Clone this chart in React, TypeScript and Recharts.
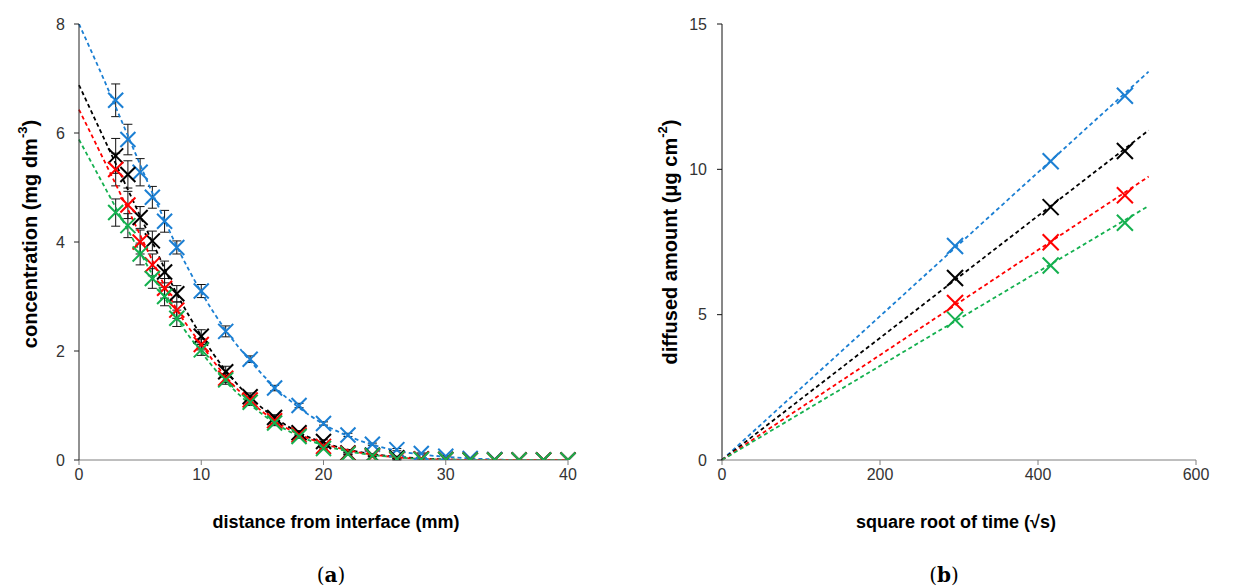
import { ComposedChart, ErrorBar, Line, Scatter, XAxis, YAxis } from "recharts";

// panel (a): concentration profiles
const distances = [3, 4, 5, 6, 7, 8, 10, 12, 14, 16, 18, 20, 22, 24, 26, 28, 30, 32, 34, 36, 38, 40];
const blueConc = [6.6, 5.88, 5.28, 4.82, 4.38, 3.9, 3.1, 2.36, 1.85, 1.32, 1.0, 0.67, 0.46, 0.29, 0.19, 0.12, 0.07, 0.03, 0.01, 0, 0, 0];
const blueErr = [0.3, 0.28, 0.25, 0.2, 0.2, 0.12, 0.12, 0.1, 0.06, 0.05, 0.04, 0.03, 0.03, 0.02, 0.02, 0.01, 0.01, 0, 0, 0, 0, 0];
const blackConc = [5.58, 5.24, 4.45, 4.02, 3.45, 3.05, 2.27, 1.62, 1.16, 0.78, 0.5, 0.34, 0.13, 0.09, 0.04, 0.02, 0.01, 0, 0, 0, 0, 0];
const blackErr = [0.32, 0.25, 0.2, 0.18, 0.2, 0.15, 0.12, 0.1, 0.07, 0.05, 0.04, 0.03, 0.02, 0.02, 0.01, 0.01, 0, 0, 0, 0, 0, 0];
const redConc = [5.33, 4.68, 4.0, 3.58, 3.15, 2.75, 2.12, 1.5, 1.1, 0.72, 0.46, 0.25, 0.12, 0.07, 0.01, 0.02, 0.01, 0, 0, 0, 0, 0];
const redErr = [0.3, 0.25, 0.22, 0.2, 0.18, 0.15, 0.1, 0.08, 0.06, 0.05, 0.04, 0.03, 0.02, 0.01, 0.01, 0, 0, 0, 0, 0, 0, 0];
const greenConc = [4.54, 4.3, 3.78, 3.33, 3.0, 2.6, 2.02, 1.47, 1.06, 0.68, 0.43, 0.21, 0.11, 0.08, 0.02, 0.01, 0.01, 0, 0, 0, 0, 0];
const greenErr = [0.25, 0.22, 0.2, 0.18, 0.17, 0.15, 0.1, 0.08, 0.06, 0.05, 0.03, 0.02, 0.02, 0.01, 0.01, 0, 0, 0, 0, 0, 0, 0];

const fitDistances = [0, 2, 4, 6, 8, 10, 12, 14, 16, 18, 20, 22, 24, 26, 28, 30, 32, 34, 36, 38, 40];
const blueFit = [8.0, 7.0, 5.95, 4.9, 3.92, 3.08, 2.38, 1.82, 1.34, 0.96, 0.66, 0.44, 0.28, 0.17, 0.1, 0.06, 0.03, 0.01, 0, 0, 0];
const blackFit = [6.88, 5.92, 4.96, 4.0, 3.05, 2.28, 1.64, 1.15, 0.78, 0.5, 0.32, 0.19, 0.11, 0.06, 0.03, 0.01, 0, 0, 0, 0, 0];
const redFit = [6.43, 5.52, 4.6, 3.66, 2.76, 2.12, 1.53, 1.08, 0.72, 0.47, 0.3, 0.18, 0.1, 0.05, 0.02, 0.01, 0, 0, 0, 0, 0];
const greenFit = [5.88, 5.05, 4.22, 3.4, 2.6, 1.98, 1.44, 1.02, 0.68, 0.44, 0.27, 0.16, 0.09, 0.05, 0.02, 0.01, 0, 0, 0, 0, 0];

// panel (b): diffused amount vs sqrt(t)
const rootTime = [295, 416, 510];
const blueAmount = [7.36, 10.28, 12.53];
const blackAmount = [6.26, 8.7, 10.63];
const redAmount = [5.4, 7.49, 9.11];
const greenAmount = [4.83, 6.69, 8.16];
const fitRootTime = [0, 540];
const blueAmountFit = [0, 13.36];
const blackAmountFit = [0, 11.34];
const redAmountFit = [0, 9.75];
const greenAmountFit = [0, 8.74];

const distTicks = [0, 10, 20, 30, 40];
const concTicks = [0, 2, 4, 6, 8];
const timeTicks = [0, 200, 400, 600];
const amountTicks = [0, 5, 10, 15];

const BLUE = "#1b7fd3";
const BLACK = "#000000";
const RED = "#ff0000";
const GREEN = "#14b04f";

const pts = (xs: number[], ys: number[], errs?: number[]) =>
  xs.map((x, i) => ({ x, y: ys[i], err: errs ? errs[i] : 0 }));

const makeCross = (color: string, r: number) => (p: any) => {
  const { cx, cy } = p;
  if (cx == null || cy == null) return <g />;
  return (
    <g>
      <line x1={cx - r} y1={cy - r} x2={cx + r} y2={cy + r} stroke={color} strokeWidth={2} />
      <line x1={cx - r} y1={cy + r} x2={cx + r} y2={cy - r} stroke={color} strokeWidth={2} />
    </g>
  );
};

const tickStyle = { fill: "#333", fontSize: 16 };
const dash = "4 3";

const leftSeries = [
  { color: BLUE, marks: pts(distances, blueConc, blueErr), fit: pts(fitDistances, blueFit) },
  { color: BLACK, marks: pts(distances, blackConc, blackErr), fit: pts(fitDistances, blackFit) },
  { color: RED, marks: pts(distances, redConc, redErr), fit: pts(fitDistances, redFit) },
  { color: GREEN, marks: pts(distances, greenConc, greenErr), fit: pts(fitDistances, greenFit) },
];

const rightSeries = [
  { color: BLUE, marks: pts(rootTime, blueAmount), fit: pts(fitRootTime, blueAmountFit) },
  { color: BLACK, marks: pts(rootTime, blackAmount), fit: pts(fitRootTime, blackAmountFit) },
  { color: RED, marks: pts(rootTime, redAmount), fit: pts(fitRootTime, redAmountFit) },
  { color: GREEN, marks: pts(rootTime, greenAmount), fit: pts(fitRootTime, greenAmountFit) },
];

function ConcentrationChart() {
  return (
    <ComposedChart width={625} height={587} margin={{ top: 24, right: 57, bottom: 97, left: 0 }}>
      <XAxis
        type="number"
        dataKey="x"
        domain={[0, 40]}
        ticks={distTicks}
        tick={tickStyle}
        stroke="#7f7f7f"
        tickSize={5}
        tickMargin={4}
        height={30}
      />
      <YAxis
        type="number"
        dataKey="y"
        domain={[0, 8]}
        ticks={concTicks}
        tick={tickStyle}
        stroke="#222"
        tickSize={5}
        tickMargin={9}
        width={79}
        allowDataOverflow
      />
      {leftSeries.map((s, i) => (
        <Scatter key={"m" + i} data={s.marks} dataKey="y" shape={makeCross(s.color, 7.5)} isAnimationActive={false}>
          <ErrorBar dataKey="err" direction="y" width={4.5} stroke="#111" strokeWidth={1} />
        </Scatter>
      ))}
      {leftSeries.map((s, i) => (
        <Line
          key={"f" + i}
          data={s.fit}
          dataKey="y"
          type="monotone"
          stroke={s.color}
          strokeWidth={1.8}
          strokeDasharray={dash}
          dot={false}
          isAnimationActive={false}
        />
      ))}
    </ComposedChart>
  );
}

function AmountChart() {
  return (
    <ComposedChart width={625} height={587} margin={{ top: 24, right: 54, bottom: 97, left: 0 }}>
      <XAxis
        type="number"
        dataKey="x"
        domain={[0, 600]}
        ticks={timeTicks}
        tick={tickStyle}
        stroke="#7f7f7f"
        tickSize={5}
        tickMargin={4}
        height={30}
      />
      <YAxis
        type="number"
        dataKey="y"
        domain={[0, 15]}
        ticks={amountTicks}
        tick={tickStyle}
        stroke="#111"
        tickSize={5}
        tickMargin={10}
        width={97}
      />
      {rightSeries.map((s, i) => (
        <Line
          key={"f" + i}
          data={s.fit}
          dataKey="y"
          type="linear"
          stroke={s.color}
          strokeWidth={1.8}
          strokeDasharray={dash}
          dot={false}
          isAnimationActive={false}
        />
      ))}
      {rightSeries.map((s, i) => (
        <Scatter key={"m" + i} data={s.marks} dataKey="y" shape={makeCross(s.color, 8)} isAnimationActive={false} />
      ))}
    </ComposedChart>
  );
}

export default function App() {
  const titleFont = { fontWeight: 700, fontSize: 18, fill: "#000" };
  const yTitleFont = { ...titleFont, fontSize: 20 };
  return (
    <div
      style={{
        position: "absolute",
        left: 0,
        top: 0,
        width: 1250,
        height: 587,
        background: "#fff",
        fontFamily: "'Liberation Sans', Arial, sans-serif",
      }}
    >
      <div style={{ position: "absolute", left: 0, top: 0 }}>
        <ConcentrationChart />
      </div>
      <div style={{ position: "absolute", left: 625, top: 0 }}>
        <AmountChart />
      </div>
      <svg width={1250} height={587} style={{ position: "absolute", left: 0, top: 0, pointerEvents: "none" }}>
        <text x={30} y={234} transform="rotate(-90 30 234)" textAnchor="middle" dominantBaseline="central" {...yTitleFont}>
          concentration (mg dm<tspan dy={-8} fontSize={13}>-3</tspan>
          <tspan dy={8}>)</tspan>
        </text>
        <text x={670} y={242} transform="rotate(-90 670 242)" textAnchor="middle" dominantBaseline="central" {...yTitleFont}>
          diffused amount (μg cm<tspan dy={-8} fontSize={13}>-2</tspan>
          <tspan dy={8}>)</tspan>
        </text>
        <text x={336} y={522} textAnchor="middle" dominantBaseline="central" {...titleFont}>
          distance from interface (mm)
        </text>
        <text x={956} y={522} textAnchor="middle" dominantBaseline="central" {...titleFont}>
          square root of time (√s)
        </text>
        <text x={331} y={575} textAnchor="middle" dominantBaseline="central" fontSize={20} fontFamily="'DejaVu Serif', 'Liberation Serif', serif">
          (<tspan fontWeight={700}>a</tspan>)
        </text>
        <text x={944} y={575} textAnchor="middle" dominantBaseline="central" fontSize={20} fontFamily="'DejaVu Serif', 'Liberation Serif', serif">
          (<tspan fontWeight={700}>b</tspan>)
        </text>
      </svg>
    </div>
  );
}
